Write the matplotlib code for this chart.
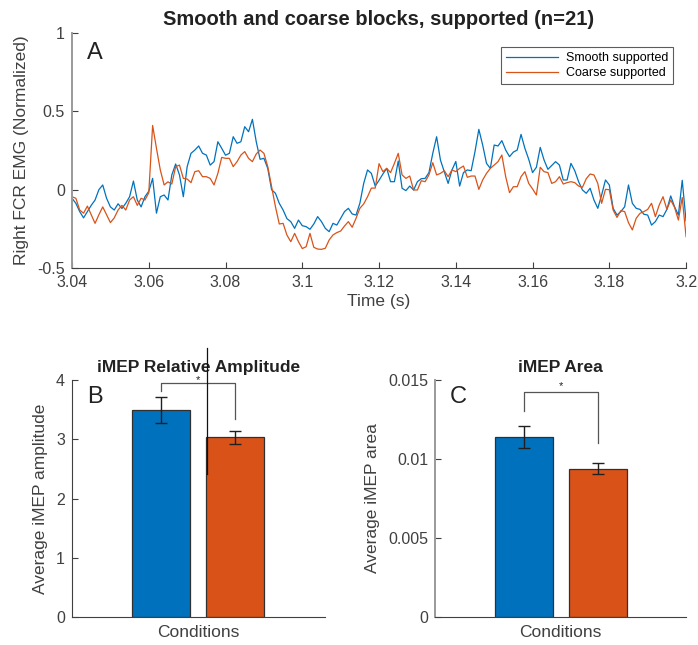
import matplotlib
matplotlib.use("Agg")
import matplotlib.pyplot as plt
import numpy as np

plt.rcParams["font.family"] = ["Liberation Sans", "DejaVu Sans"]

BLUE = "#0072BD"
ORANGE = "#D95319"
INK = "#404040"

# averaged EMG traces, one sample per ms from 3.040 s to 3.200 s
time_s = 3.04 + 0.001 * np.arange(161)
smooth_emg = [
    -0.055, -0.087, -0.14, -0.18, -0.14, -0.10, -0.066, 0.0, 0.03, -0.055,
    -0.11, -0.13, -0.09, -0.12, -0.087, -0.045, 0.055, -0.066, -0.11, -0.045,
    -0.01, 0.072, -0.15, -0.045, -0.034, -0.066, 0.094, 0.164, 0.094, -0.045,
    0.147, 0.232, 0.253, 0.279, 0.232, 0.221, 0.157, 0.179, 0.306, 0.264,
    0.22, 0.232, 0.338, 0.296, 0.306, 0.402, 0.37, 0.449, 0.306, 0.194,
    0.2, 0.136, 0.0, -0.023, -0.087, -0.13, -0.185, -0.204, -0.247, -0.194,
    -0.23, -0.236, -0.253, -0.219, -0.172, -0.204, -0.247, -0.268, -0.215, -0.226,
    -0.183, -0.14, -0.119, -0.155, -0.162, -0.087, 0.04, 0.126, 0.104, 0.023,
    0.06, 0.1, 0.136, 0.051, 0.051, 0.183, 0.009, -0.006, 0.023, -0.002,
    0.051, 0.07, 0.072, 0.109, 0.232, 0.338, 0.189, 0.115, 0.04, 0.126,
    0.18, 0.023, 0.109, 0.126, 0.121, 0.243, 0.385, 0.285, 0.168, 0.136,
    0.285, 0.279, 0.313, 0.253, 0.211, 0.24, 0.253, 0.353, 0.264, 0.194,
    0.109, 0.143, 0.27, 0.189, 0.13, 0.155, 0.179, 0.157, 0.062, 0.062,
    0.168, 0.121, 0.051, -0.002, -0.023, 0.009, -0.066, -0.119, -0.034, 0.062,
    0.03, -0.119, -0.162, -0.14, -0.109, 0.03, -0.087, -0.119, -0.126, -0.157,
    -0.162, -0.226, -0.204, -0.162, -0.172, -0.126, -0.04, -0.109, -0.162, 0.06,
    -0.2,
]
coarse_emg = [
    -0.045, -0.055, -0.13, -0.15, -0.105, -0.16, -0.215, -0.16, -0.11, -0.16,
    -0.21, -0.18, -0.13, -0.10, -0.13, -0.066, -0.045, -0.10, -0.055, -0.066,
    -0.02, 0.41, 0.264, 0.126, 0.03, 0.05, 0.036, 0.147, 0.157, 0.072,
    0.068, 0.045, 0.115, 0.121, 0.083, 0.083, 0.072, 0.03, 0.104, 0.206,
    0.2, 0.2, 0.147, 0.179, 0.221, 0.243, 0.2, 0.179, 0.228, 0.253,
    0.232, 0.147, 0.02, -0.108, -0.219, -0.215, -0.29, -0.332, -0.279, -0.332,
    -0.376, -0.364, -0.279, -0.368, -0.379, -0.381, -0.374, -0.321, -0.289, -0.274,
    -0.264, -0.232, -0.204, -0.24, -0.183, -0.119, -0.091, -0.045, 0.01, 0.01,
    0.166, 0.115, 0.136, 0.109, 0.168, 0.232, 0.094, 0.072, 0.087, -0.002,
    -0.002, 0.057, 0.051, 0.094, 0.172, 0.094, 0.104, 0.121, 0.083, 0.126,
    0.115, 0.136, 0.151, 0.079, 0.087, 0.087, 0.002, 0.062, 0.104, 0.136,
    0.157, 0.179, 0.221, 0.083, -0.019, 0.019, 0.019, 0.083, 0.115, 0.04,
    0.005, -0.034, 0.143, 0.115, 0.109, 0.04, 0.051, 0.083, 0.036, 0.045,
    0.051, 0.045, 0.023, 0.015, 0.07, 0.1, 0.094, 0.04, -0.087, 0.002,
    0.0, -0.13, -0.177, -0.134, -0.14, -0.211, -0.257, -0.183, -0.151, -0.14,
    -0.126, -0.087, -0.172, -0.098, -0.045, -0.126, -0.066, -0.113, -0.194, -0.05,
    -0.3,
]

conditions = ["Smooth supported", "Coarse supported"]
amp_mean = [3.50, 3.03]
amp_err = [0.22, 0.11]
area_mean = [0.0114, 0.0094]
area_err = [0.00072, 0.00037]


def style_axis(ax):
    ax.tick_params(direction="in", colors=INK, labelsize=11.5, length=4, width=0.8)
    ax.tick_params(axis="y", pad=5)
    ax.tick_params(axis="x", pad=5)
    for side in ("top", "right"):
        ax.spines[side].set_visible(False)
    ax.spines["left"].set_color("#9a9a9a")
    ax.spines["left"].set_linewidth(1.4)
    ax.spines["bottom"].set_color(INK)
    ax.spines["bottom"].set_linewidth(0.8)


def bar_panel(ax, means, errs, ylim, yticks, ylabels, ylabel, title, letter,
              bracket, star_y):
    pos = [1, 2]
    ax.bar(pos, means, width=0.78, color=[BLUE, ORANGE], edgecolor="#303030",
           linewidth=0.9, zorder=2)
    ax.errorbar(pos, means, yerr=errs, fmt="none", ecolor="#202020",
                elinewidth=1.0, capsize=4, capthick=1.0, zorder=3)
    ax.set_xlim(-0.2, 3.22)
    ax.set_ylim(*ylim)
    ax.set_yticks(yticks)
    ax.set_yticklabels(ylabels)
    ax.set_xticks([])
    style_axis(ax)
    ax.set_xlabel("Conditions", fontsize=12.5, color=INK, labelpad=6)
    ax.set_ylabel(ylabel, fontsize=12.5, color=INK, labelpad=6)
    ax.set_title(title, fontsize=12.5, fontweight="bold", color="#222222", pad=6)
    ax.text(0.06, 0.93, letter, transform=ax.transAxes, fontsize=17,
            color="#222222", va="center", ha="left")
    left_low, top, right_low = bracket
    ax.plot([1, 1, 2, 2], [left_low, top, top, right_low], color="#555555",
            lw=0.9, clip_on=False, zorder=4)
    ax.text(1.5, star_y, "*", ha="center", va="center", fontsize=8,
            color="#222222")


fig = plt.figure(figsize=(6.98, 6.45), dpi=100)

ax_a = fig.add_axes([0.1032, 0.5845, 0.8797, 0.3643])
ax_a.plot(time_s, smooth_emg, color=BLUE, lw=0.9, label=conditions[0])
ax_a.plot(time_s, coarse_emg, color=ORANGE, lw=0.9, label=conditions[1])
ax_a.set_xlim(3.04, 3.2)
ax_a.set_ylim(-0.5, 1)
ax_a.set_xticks(np.arange(3.04, 3.2001, 0.02))
ax_a.set_xticklabels(["3.04", "3.06", "3.08", "3.1", "3.12", "3.14",
                      "3.16", "3.18", "3.2"])
ax_a.set_yticks([-0.5, 0, 0.5, 1])
ax_a.set_yticklabels(["-0.5", "0", "0.5", "1"])
style_axis(ax_a)
ax_a.set_xlabel("Time (s)", fontsize=12.5, color=INK, labelpad=3)
ax_a.set_ylabel("Right FCR EMG (Normalized)", fontsize=12.5, color=INK,
                labelpad=6)
ax_a.set_title("Smooth and coarse blocks, supported (n=21)", fontsize=14.5,
               fontweight="bold", color="#222222", pad=6)
ax_a.text(0.025, 0.915, "A", transform=ax_a.transAxes, fontsize=17,
          color="#222222", va="center")
leg = ax_a.legend(loc="upper right", bbox_to_anchor=(0.979, 0.94), fontsize=9,
                  frameon=True, fancybox=False, handlelength=4.2,
                  borderpad=0.4, labelspacing=0.25, handletextpad=0.6,
                  borderaxespad=0)
leg.get_frame().set_edgecolor("#333333")
leg.get_frame().set_linewidth(0.8)

ax_b = fig.add_axes([0.1032, 0.0434, 0.3625, 0.3674])
bar_panel(ax_b, amp_mean, amp_err, (0, 4), [0, 1, 2, 3, 4],
          ["0", "1", "2", "3", "4"], "Average iMEP amplitude",
          "iMEP Relative Amplitude", "B", (3.81, 3.95, 3.34), 4.0)
# stray vertical rule crossing the amplitude panel
ax_b.plot([1.624, 1.624], [2.41, 4.54], color="#111111", lw=0.9,
          clip_on=False, zorder=5)
ax_b.spines["left"].set_color(INK)
ax_b.spines["left"].set_linewidth(0.8)

ax_c = fig.add_axes([0.6232, 0.0434, 0.3596, 0.3674])
bar_panel(ax_c, area_mean, area_err, (0, 0.015), [0, 0.005, 0.01, 0.015],
          ["0", "0.005", "0.01", "0.015"], "Average iMEP area",
          "iMEP Area", "C", (0.01304, 0.01424, 0.01101), 0.01462)
ax_c.set_xlim(-0.196, 3.19)

fig.savefig("out.png", dpi=100)
